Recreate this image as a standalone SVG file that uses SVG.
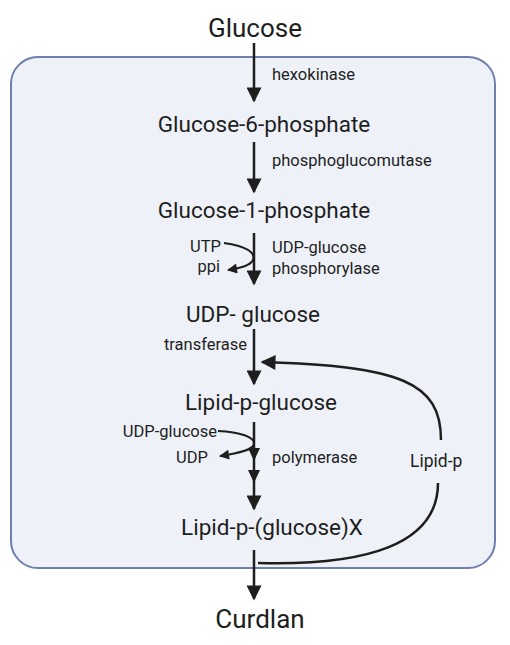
<svg xmlns="http://www.w3.org/2000/svg" width="510" height="645" viewBox="0 0 510 645">
<defs>
<style>
.big{font-family:Roboto,"Liberation Sans",sans-serif;font-size:26px;fill:#1e1e1e;text-anchor:middle}
.mid{font-family:Roboto,"Liberation Sans",sans-serif;font-size:22.5px;fill:#1e1e1e;text-anchor:middle}
.lbl{font-family:Roboto,"Liberation Sans",sans-serif;font-size:16.5px;fill:#1e1e1e}
.lbr{font-family:Roboto,"Liberation Sans",sans-serif;font-size:16.5px;fill:#1e1e1e;text-anchor:end}
.ln{fill:none;stroke:#1e1e1e;stroke-width:2.5}
.ln2{fill:none;stroke:#1e1e1e;stroke-width:2}
.tri{fill:#1e1e1e}
</style>
<marker id="ah" viewBox="0 0 10 10" refX="9" refY="5" markerUnits="userSpaceOnUse" markerWidth="16" markerHeight="15" orient="auto">
<path d="M0,0 L10,5 L0,10 z" fill="#1e1e1e"/>
</marker>
<marker id="ahs" viewBox="0 0 10 10" refX="9" refY="5" markerUnits="userSpaceOnUse" markerWidth="11" markerHeight="10" orient="auto">
<path d="M0,0 L10,5 L0,10 z" fill="#1e1e1e"/>
</marker>
</defs>
<rect id="cell" x="11" y="57" width="484" height="511" rx="27" ry="27" fill="#eef2f8" stroke="#6f7fb0" stroke-width="2"/>
<g id="connectors">
<path class="ln" d="M254,43 V101" marker-end="url(#ah)"/>
<path class="ln" d="M254,142 V192" marker-end="url(#ah)"/>
<path class="ln" d="M254,233 V284" marker-end="url(#ah)"/>
<path class="ln" d="M254,329 V384" marker-end="url(#ah)"/>
<path class="ln" d="M254,422 V509" marker-end="url(#ah)"/>
<polygon class="tri" points="248,448 260,448 254,461"/>
<polygon class="tri" points="248,470 260,470 254,483"/>
<path class="ln" d="M254,550 V599" marker-end="url(#ah)"/>
<path class="ln2" d="M224,243 C245,246 256,252 253,260 C250,266 240,268 228,270" marker-end="url(#ahs)"/>
<path class="ln2" d="M218,431 C240,432 255,437 254,444 C253,450 240,453 220,456" marker-end="url(#ahs)"/>
<path class="ln" d="M441,440 C441,382 400,366 262,362" marker-end="url(#ah)"/>
<path class="ln" d="M438,483 C438,545 365,566 258,563"/>
</g>
<g id="glucose"><text class="big" x="255" y="37">Glucose</text></g>
<g id="hexokinase"><text class="lbl" x="272" y="80">hexokinase</text></g>
<g id="g6p"><text class="mid" x="264" y="132">Glucose-6-phosphate</text></g>
<g id="pgm"><text class="lbl" x="272" y="166">phosphoglucomutase</text></g>
<g id="g1p"><text class="mid" x="264" y="218">Glucose-1-phosphate</text></g>
<g id="utp"><text class="lbr" x="221" y="252">UTP</text></g>
<g id="ppi"><text class="lbr" x="220" y="272">ppi</text></g>
<g id="udpgp"><text class="lbl" x="272" y="253">UDP-glucose</text><text class="lbl" x="272" y="274">phosphorylase</text></g>
<g id="udpglc"><text class="mid" x="253" y="322">UDP- glucose</text></g>
<g id="transferase"><text class="lbr" x="247" y="350">transferase</text></g>
<g id="lpg"><text class="mid" x="261" y="410">Lipid-p-glucose</text></g>
<g id="udpglc2"><text class="lbr" x="217" y="437">UDP-glucose</text></g>
<g id="udp"><text class="lbr" x="208" y="463">UDP</text></g>
<g id="polymerase"><text class="lbl" x="272" y="463">polymerase</text></g>
<g id="lipidp"><text class="lbl" x="410" y="467" style="font-size:17.5px">Lipid-p</text></g>
<g id="lpgx"><text class="mid" x="272" y="535">Lipid-p-(glucose)X</text></g>
<g id="curdlan"><text class="big" x="260" y="628">Curdlan</text></g>
</svg>
